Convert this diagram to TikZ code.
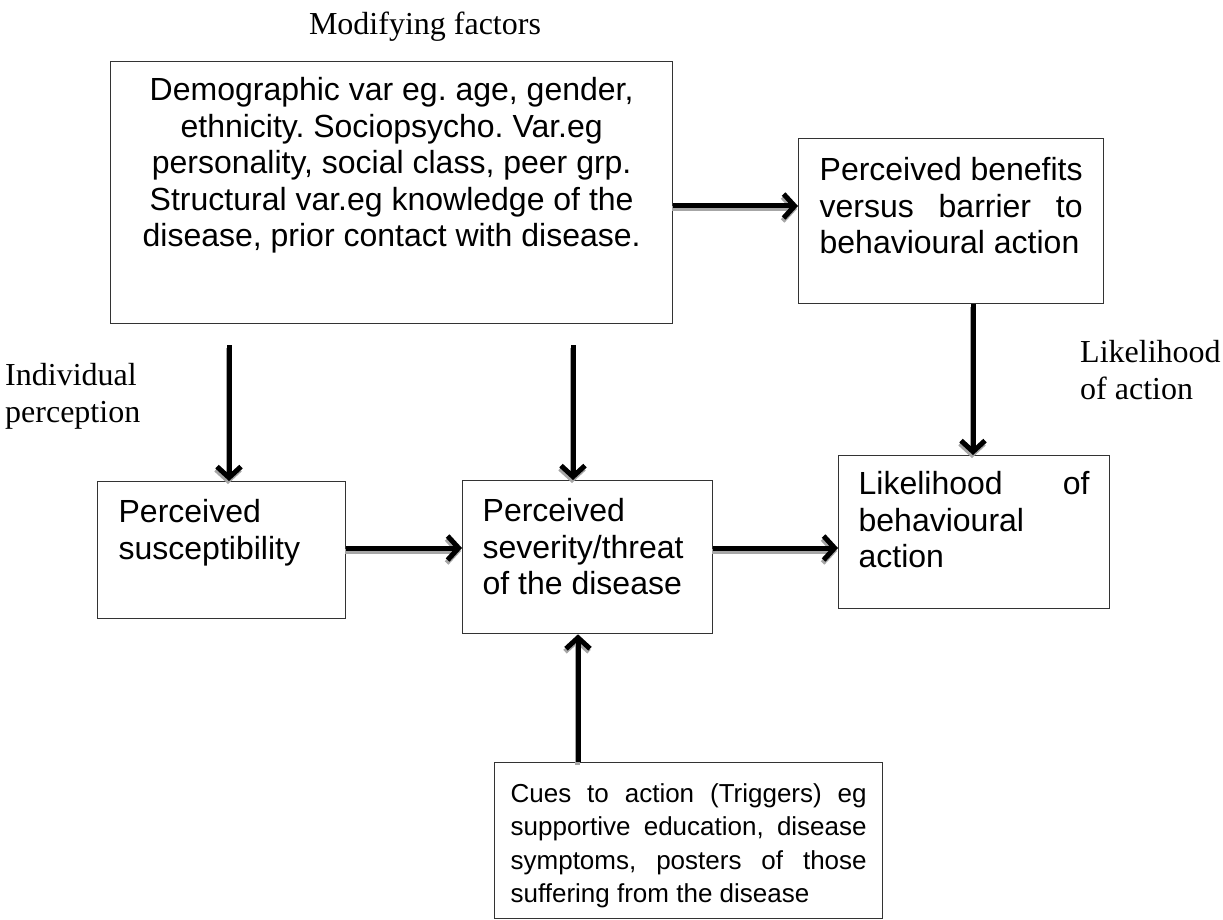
\documentclass[tikz,border=0pt]{standalone}
\usepackage{fontspec}
\setmainfont{Liberation Serif}
\setsansfont{Liberation Sans}
\usetikzlibrary{arrows.meta}
\frenchspacing

\newcommand{\jline}[1]{\makebox[\linewidth][s]{#1}\\}
\newcommand{\boxtext}[3]{\parbox[t][#2][t]{#1}{#3}}

\begin{document}
\begin{tikzpicture}[x=1pt,y=-1pt,
	box/.style={draw=black!80, line width=1.3pt, anchor=north west, inner xsep=20pt, inner ysep=18pt, font=\sffamily\fontsize{32}{36.5}\selectfont},
	lbl/.style={font=\fontsize{32}{37}\selectfont, align=left, inner sep=0pt},
	arr/.style={line width=5pt, -{Straight Barb[length=11pt,width=24pt]}},
	shade/.style={arr, black!35, transform canvas={shift={(-1pt,-3pt)}}}]
	\useasboundingbox (0,0) rectangle (1223,920);
	% boxes
	\node[box, inner ysep=16pt] (mod) at (110,61)
		{\boxtext{522pt}{230pt}{\centering Demographic var eg. age, gender, ethnicity. Sociopsycho. Var.eg personality, social class, peer grp. Structural var.eg knowledge of the disease, prior contact with disease.}};
	\node[box, inner xsep=21pt, inner ysep=19pt] (ben) at (798,138)
		{\boxtext{263pt}{127pt}{\jline{Perceived benefits}\jline{versus barrier to}behavioural action}};
	\node[box, inner xsep=21pt] (sus) at (97,481)
		{\boxtext{206pt}{101pt}{Perceived\\susceptibility}};
	\node[box] (sev) at (462,480)
		{\boxtext{210pt}{117pt}{Perceived\\severity/threat\\of the disease}};
	\node[box, inner ysep=16pt] (lik) at (838,455)
		{\boxtext{231pt}{121pt}{\jline{Likelihood of}behavioural\\action}};
	\node[box, inner xsep=16pt, inner ysep=21pt, font=\sffamily\fontsize{26}{33.3}\selectfont] (cue) at (494,762)
		{\boxtext{356pt}{114pt}{\jline{Cues to action (Triggers) eg}\jline{supportive education, disease}\jline{symptoms, posters of those}suffering from the disease}};
	% labels
	\node[lbl, anchor=base] (mf) at (425,35) {Modifying factors};
	\node[lbl, anchor=base west] (ip) at (5,422) {Individual\\perception};
	\node[lbl, anchor=base west] (la) at (1080,399) {Likelihood\\of action};
	% arrows
	\coordinate (s1) at (229,345);
	\coordinate (s2) at (573,345);
	\coordinate (r1) at (0,206);
	\coordinate (r2) at (0,548);
	\coordinate (v1) at (973,0);
	\coordinate (v2) at (578,0);
\foreach \s/\e in {s1/sus.north -| s1, s2/sev.north -| s2, mod.east |- r1/ben.west |- r1,
		ben.south -| v1/lik.north -| v1, sus.east |- r2/sev.west |- r2,
		sev.east |- r2/lik.west |- r2, cue.north -| v2/sev.south -| v2}
	{\draw[shade] (\s) -- (\e); \draw[arr] (\s) -- (\e);}
\end{tikzpicture}
\end{document}
